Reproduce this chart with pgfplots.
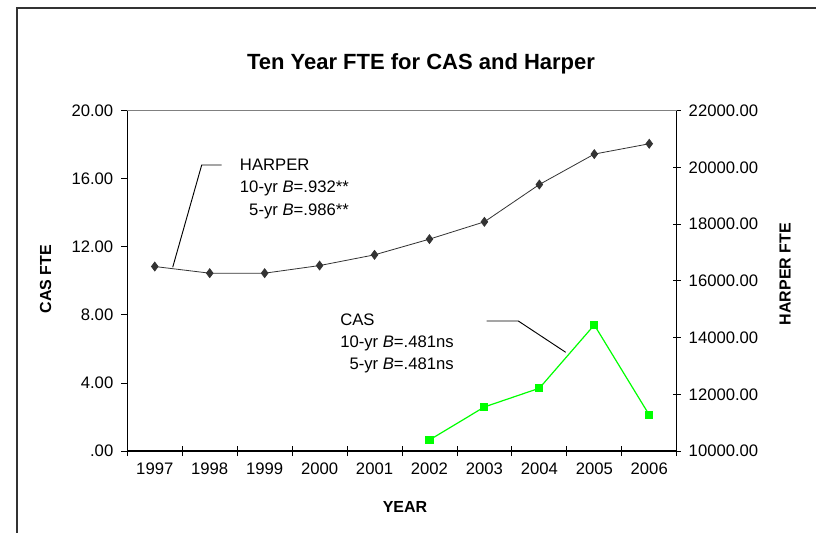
\documentclass[border=0pt]{standalone}
\usepackage{pgfplots}
\pgfplotsset{compat=1.18}
\usepackage{fontspec}
\setmainfont{Liberation Sans}
\definecolor{harp}{HTML}{333333}
\definecolor{casg}{HTML}{00FF00}

\pgfplotstableread{
year harper
1997 16506
1998 16271
1999 16271
2000 16540
2001 16918
2002 17472
2003 18082
2004 19398
2005 20471
2006 20835
}\harpertab

\pgfplotstableread{
year cas
2002 0.65
2003 2.59
2004 3.69
2005 7.41
2006 2.12
}\castab

\begin{document}
\begin{tikzpicture}
\useasboundingbox (0,0) rectangle (612pt,399pt);
\fill[white] (0,0) rectangle (612pt,399pt);

\pgfplotsset{
  common/.style={
    at={(95.475pt,60.75pt)}, anchor=south west,
    scale only axis, width=412.05pt, height=255.2pt,
    xmin=1996.5, xmax=2006.5,
    axis line style={-, line width=0.8pt},
    tick style={black, line width=0.6pt},
    tick label style={font=\fontsize{12.5}{14}\selectfont},
    scaled y ticks=false, scaled x ticks=false,
    clip=false,
  }
}

% left axis : CAS
\begin{axis}[common,
  ymin=0, ymax=20,
  axis x line*=bottom, axis y line*=left,
  xtick={1997,1998,1999,2000,2001,2002,2003,2004,2005,2006},
  xticklabels={1997,1998,1999,2000,2001,2002,2003,2004,2005,2006},
  major x tick style={draw=none},
  minor xtick={1996.5,1997.5,1998.5,1999.5,2000.5,2001.5,2002.5,2003.5,2004.5,2005.5,2006.5},
  minor tick length=7.5pt,
  xtick align=center,
  ytick={0,4,8,12,16,20},
  yticklabels={.00,4.00,8.00,12.00,16.00,20.00},
  ytick align=outside, major tick length=4.5pt,
  yticklabel style={xshift=-2.5pt},
  xticklabel style={yshift=-3pt},
]
\addplot[casg, line width=0.9pt, mark=square*, mark size=2.6pt,
  mark options={fill=casg, draw=casg}] table[x=year, y=cas] {\castab};
\end{axis}

% right axis : HARPER
\begin{axis}[common,
  ymin=10000, ymax=22000,
  hide x axis,
  axis y line*=right,
  ytick={10000,12000,14000,16000,18000,20000,22000},
  yticklabels={10000.00,12000.00,14000.00,16000.00,18000.00,20000.00,22000.00},
  ytick align=center, major tick length=6pt,
  yticklabel style={xshift=2.5pt},
]
\addplot[harp, line width=0.6pt, mark=diamond*, mark size=3.3pt,
  mark options={fill=harp, draw=harp}] table[x=year, y=harper] {\harpertab};
\end{axis}

\begin{scope}[x=0.75pt,y=-0.75pt,shift={(0pt,399pt)}]
 % chart frame (left and top)
 \draw[line width=1.6pt, black!80] (16.7,540) -- (16.7,8.3) -- (830,8.3);
 % top border of plot area
 \draw[gray, line width=0.6pt] (127.3,110.7) -- (676.7,110.7);
 % title
 \node[font=\bfseries\fontsize{16.5}{18}\selectfont] at (421,64) {Ten Year FTE for CAS and Harper};
 % axis titles
 \node[font=\bfseries\fontsize{12}{14}\selectfont, rotate=90] at (45.5,279) {CAS FTE};
 \node[font=\bfseries\fontsize{12}{14}\selectfont, rotate=90] at (785,274) {HARPER FTE};
 \node[font=\bfseries\fontsize{12}{14}\selectfont] at (405,507) {YEAR};
 % HARPER annotation
 \draw[black, line width=0.7pt] (172.7,267.3) -- (201.7,165) -- (221.7,165);
 \begin{scope}[every node/.style={anchor=base west, inner sep=0pt, font=\fontsize{12.5}{14}\selectfont}]
 \node at (239.7,170.7) {HARPER};
 \node at (239.7,193) {10-yr \textit{B}=.932**};
 \node at (239.7,215.5) {\hphantom{1}5-yr \textit{B}=.986**};
 \node at (340,325) {CAS};
 \node at (340,347.4) {10-yr \textit{B}=.481ns};
 \node at (340,369) {\hphantom{1}5-yr \textit{B}=.481ns};
 \end{scope}
 % CAS annotation leader
 \draw[black, line width=0.7pt] (486.7,321) -- (518.3,321) -- (565.7,352.3);
\end{scope}
\end{tikzpicture}
\end{document}
